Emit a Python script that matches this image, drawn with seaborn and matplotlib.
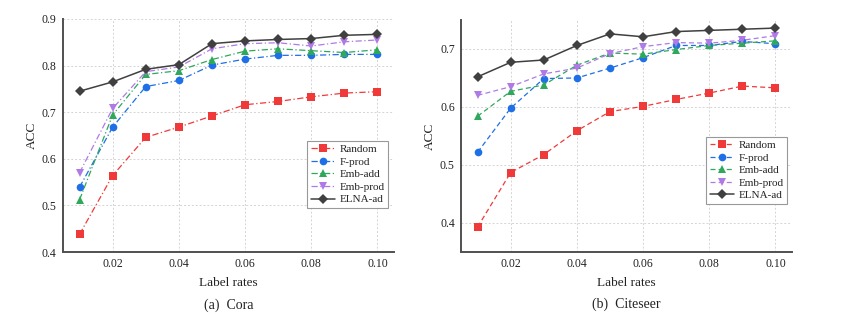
import numpy as np
import pandas as pd
import matplotlib
matplotlib.use("Agg")
import matplotlib.pyplot as plt
import seaborn as sns
from matplotlib.ticker import MultipleLocator

label_rates = [0.01, 0.02, 0.03, 0.04, 0.05, 0.06, 0.07, 0.08, 0.09, 0.10]
methods = ["Random", "F-prod", "Emb-add", "Emb-prod", "ELNA-ad"]

cora_random = [0.438, 0.564, 0.646, 0.668, 0.692, 0.716, 0.723, 0.733, 0.741, 0.744]
cora_fprod = [0.539, 0.668, 0.755, 0.768, 0.801, 0.814, 0.822, 0.822, 0.824, 0.824]
cora_embadd = [0.512, 0.694, 0.781, 0.789, 0.813, 0.831, 0.836, 0.832, 0.828, 0.834]
cora_embprod = [0.570, 0.708, 0.787, 0.797, 0.836, 0.847, 0.849, 0.842, 0.851, 0.855]
cora_elna = [0.745, 0.765, 0.792, 0.802, 0.847, 0.853, 0.856, 0.858, 0.865, 0.867]

cite_random = [0.393, 0.487, 0.518, 0.559, 0.592, 0.601, 0.613, 0.624, 0.636, 0.633]
cite_fprod = [0.522, 0.598, 0.649, 0.650, 0.667, 0.685, 0.706, 0.706, 0.713, 0.709]
cite_embadd = [0.584, 0.627, 0.638, 0.672, 0.693, 0.691, 0.699, 0.706, 0.710, 0.714]
cite_embprod = [0.620, 0.635, 0.657, 0.667, 0.692, 0.704, 0.711, 0.710, 0.715, 0.723]
cite_elna = [0.652, 0.677, 0.681, 0.706, 0.726, 0.721, 0.730, 0.732, 0.734, 0.736]

x_ticks = [0.02, 0.04, 0.06, 0.08, 0.10]
x_tick_labels = ["0.02", "0.04", "0.06", "0.08", "0.10"]

colors = ["#f03a3a", "#1f6fe6", "#2ea85a", "#b07ae6", "#404040"]
markers = ["s", "o", "^", "v", "D"]

sns.set_style("white")
plt.rcParams["font.family"] = ["Liberation Serif", "DejaVu Serif"]

fig = plt.figure(figsize=(8.43, 3.25), dpi=100)
ax1 = fig.add_axes([0.0747, 0.2246, 0.3927, 0.717])
ax2 = fig.add_axes([0.5469, 0.2246, 0.3926, 0.714])


def draw(ax, series, dash, ylim, ymajor, yminor, leg_anchor, caption):
    for name, vals, c, m in zip(methods, series, colors, markers):
        df = pd.DataFrame({"x": label_rates, "y": vals})
        is_main = name == "ELNA-ad"
        ls = "-" if is_main else dash
        sns.lineplot(data=df, x="x", y="y", ax=ax, color=c, marker=m,
                     markersize=5.5 if m != "D" else 5, markeredgewidth=0,
                     linewidth=1.1 if is_main else 0.9, linestyle=ls,
                     alpha=1.0, label=name, zorder=3 if is_main else 2)
    ax.set_xlim(0.005, 0.105)
    ax.set_ylim(*ylim)
    ax.set_xticks(x_ticks)
    ax.set_xticklabels(x_tick_labels)
    ax.xaxis.set_minor_locator(MultipleLocator(0.01))
    ax.yaxis.set_major_locator(MultipleLocator(ymajor))
    ax.yaxis.set_minor_locator(MultipleLocator(yminor))
    ax.grid(True, which="major", linestyle=(0, (2, 2)), color="#d4d4d4", linewidth=0.7)
    ax.set_axisbelow(True)
    for s in ["top", "right"]:
        ax.spines[s].set_visible(False)
    for s in ["left", "bottom"]:
        ax.spines[s].set_color("#505050")
        ax.spines[s].set_linewidth(1.4)
    ax.tick_params(axis="both", which="major", direction="out", length=3, width=0.8,
                   color="#505050", labelsize=8.5, pad=1.5, labelcolor="#222222")
    ax.tick_params(axis="both", which="minor", direction="in", length=2, width=0.6,
                   color="#505050")
    ax.set_xlabel("Label rates", fontsize=9.5, color="#222222", labelpad=5)
    ax.set_ylabel("ACC", fontsize=9.5, color="#222222", labelpad=3)
    leg = ax.legend(loc="upper right", bbox_to_anchor=leg_anchor, fontsize=8,
                    frameon=True, fancybox=False, framealpha=1, edgecolor="#999999",
                    borderpad=0.3, labelspacing=0.25, handlelength=2.2,
                    handletextpad=0.4, borderaxespad=0)
    leg.get_frame().set_linewidth(0.8)
    ax.text(0.5, -0.227, caption, transform=ax.transAxes, ha="center", va="center",
            fontsize=10, color="#222222")


draw(ax1, [cora_random, cora_fprod, cora_embadd, cora_embprod, cora_elna],
     (0, (5, 2, 1, 2)), (0.4, 0.9), 0.1, 0.05, (0.982, 0.476), "(a)  Cora")
draw(ax2, [cite_random, cite_fprod, cite_embadd, cite_embprod, cite_elna],
     (0, (4, 2.5)), (0.35, 0.75), 0.1, 0.05, (0.985, 0.496), "(b)  Citeseer")

fig.savefig("out.png", dpi=100)
